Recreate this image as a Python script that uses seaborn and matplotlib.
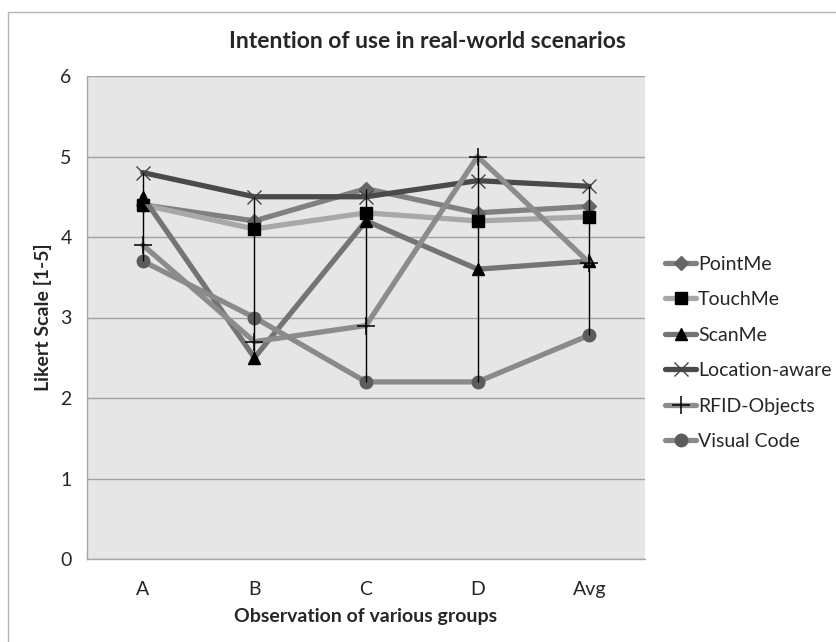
# Intention of use chart (Excel-style grey line chart with high-low lines)
import pandas as pd
import numpy as np
import matplotlib.pyplot as plt
import seaborn as sns
from matplotlib.patches import Rectangle

# data
groups = ['A', 'B', 'C', 'D', 'Avg']
point_me = [4.4, 4.2, 4.6, 4.3, 4.38]
touch_me = [4.4, 4.1, 4.3, 4.2, 4.25]
scan_me = [4.5, 2.5, 4.2, 3.6, 3.7]
location_aware = [4.8, 4.5, 4.5, 4.7, 4.63]
rfid_objects = [3.9, 2.7, 2.9, 5.0, 3.68]
visual_code = [3.7, 3.0, 2.2, 2.2, 2.78]

series_names = ['PointMe', 'TouchMe', 'ScanMe', 'Location-aware', 'RFID-Objects', 'Visual Code']
series_values = [point_me, touch_me, scan_me, location_aware, rfid_objects, visual_code]

# style per series: line colour, marker, marker colour, marker size
styles = {
    'PointMe':        dict(color='#808080', marker='D', mfc='#666666', mec='#666666', ms=7.5, mew=1),
    'TouchMe':        dict(color='#a8a8a8', marker='s', mfc='black', mec='black', ms=8, mew=1),
    'ScanMe':         dict(color='#747474', marker='^', mfc='black', mec='black', ms=8.5, mew=1),
    'Location-aware': dict(color='#4a4a4a', marker='x', mfc='#444444', mec='#444444', ms=10, mew=1),
    'RFID-Objects':   dict(color='#8c8c8c', marker='+', mfc='black', mec='black', ms=13, mew=1.1),
    'Visual Code':    dict(color='#8a8a8a', marker='o', mfc='#5c5c5c', mec='#5c5c5c', ms=9, mew=1),
}

df = pd.DataFrame({
    'group': groups * len(series_names),
    'series': np.repeat(series_names, len(groups)),
    'value': np.concatenate(series_values),
})

sns.set_style('white')
plt.rcParams['font.family'] = ['Lato', 'DejaVu Sans']

fig = plt.figure(figsize=(8.37, 6.42), dpi=100)
ax = fig.add_axes([87 / 837, 83 / 642, 558 / 837, 483 / 642])
ax.set_facecolor('#e6e6e6')

# outer chart border (light grey)
fig.patches.append(Rectangle((8 / 837, -0.1), 1.2, 1.1 - 12 / 642, transform=fig.transFigure,
                             fill=False, edgecolor='#b3b3b3', linewidth=1, zorder=0))

handles = []
for name in series_names:
    st = styles[name]
    sub = df[df['series'] == name]
    sns.lineplot(data=sub, x='group', y='value', ax=ax, sort=False, color=st['color'],
                 linewidth=3.8, marker=st['marker'], markerfacecolor=st['mfc'],
                 markeredgecolor=st['mec'], markersize=st['ms'], markeredgewidth=st['mew'],
                 zorder=2, label=name)
    handles.append(ax.lines[-1])

# high-low lines
table = df.pivot(index='group', columns='series', values='value').loc[groups]
ax.vlines(np.arange(len(groups)), table.min(axis=1), table.max(axis=1),
          color='black', linewidth=1, zorder=3)

ax.set_xlim(-0.5, len(groups) - 0.5)
ax.set_ylim(0, 6)
ax.set_yticks(range(0, 7))
ax.yaxis.grid(True, color='#a0a0a0', linewidth=1)
ax.set_axisbelow(True)
for s in ['top', 'right']:
    ax.spines[s].set_visible(False)
for s in ['left', 'bottom']:
    ax.spines[s].set_color('#a6a6a6')
    ax.spines[s].set_linewidth(1)
ax.tick_params(axis='y', length=5, color='#a6a6a6', labelsize=14, pad=6)
ax.tick_params(axis='x', length=0, labelsize=14, pad=16)

ax.set_xlabel('Observation of various groups', fontsize=14, fontweight='bold', labelpad=7)
ax.set_ylabel('Likert Scale [1-5]', fontsize=14, fontweight='bold', labelpad=6)
fig.text(427 / 837, 1 - 42 / 642, 'Intention of use in real-world scenarios',
         ha='center', va='center', fontsize=16.5, fontweight='bold')

leg = ax.legend(handles=handles, labels=series_names, loc='center left',
                bbox_to_anchor=(665 / 837, 1 - 353 / 642), bbox_transform=fig.transFigure,
                frameon=False, fontsize=14, handlelength=1.6, handletextpad=0.1,
                labelspacing=0.95, borderaxespad=0, borderpad=0)

plt.savefig('out.png', dpi=100)
plt.close()
